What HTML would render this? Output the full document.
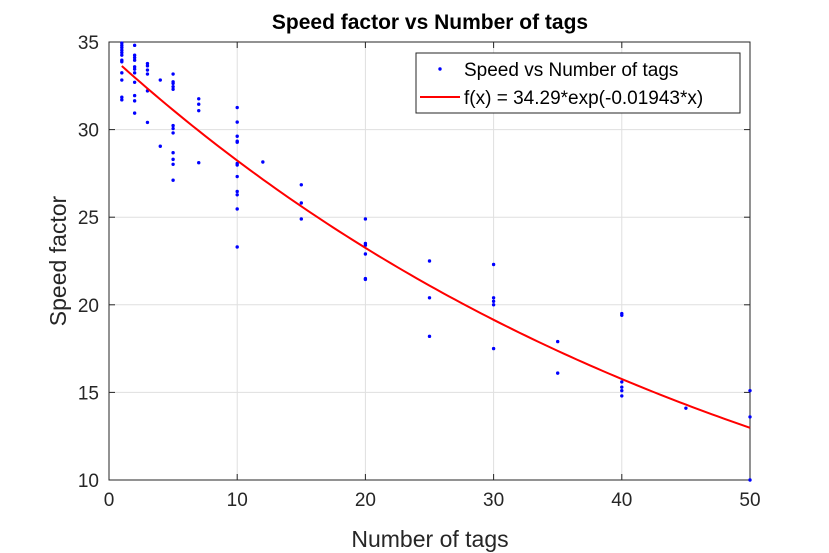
<!DOCTYPE html>
<html><head><meta charset="utf-8"><style>
body{margin:0;background:#fff;}
svg{display:block;font-family:"Liberation Sans",Arial,sans-serif;}
</style></head><body>
<svg id="chart" width="829" height="553" viewBox="0 0 829 553" xmlns="http://www.w3.org/2000/svg"></svg>
<script>
const xTicks=[0,10,20,30,40,50];
const yTicks=[10,15,20,25,30,35];
const ptX=[1,1,1,1,1,1,1,1,1,1,1,1,
2,2,2,2,2,2,2,2,2,2,2,
3,3,3,3,3,3,4,4,
5,5,5,5,5,5,5,5,5,5,5,5,
7,7,7,7,
10,10,10,10,10,10,10,10,10,10,10,10,
12,15,15,15,
20,20,20,20,20,20,25,25,25,
30,30,30,30,30,35,35,
40,40,40,40,40,40,45,50,50,50];
const ptY=[34.94,34.81,34.68,34.53,34.39,34.25,33.96,33.87,33.24,32.83,31.85,31.7,
34.81,34.25,34.11,33.96,33.58,33.45,33.24,32.7,31.94,31.64,30.94,
33.77,33.64,33.4,33.17,32.21,30.41,32.83,29.05,
33.17,32.73,32.64,32.45,32.3,30.23,30.06,29.81,28.68,28.3,28.02,27.11,
31.76,31.45,31.08,28.11,
31.26,30.43,29.62,29.34,29.28,28.07,27.98,27.32,26.47,26.28,25.47,23.3,
28.15,26.85,25.81,24.9,
24.9,23.5,23.4,22.9,21.5,21.45,22.5,20.4,18.2,
22.3,20.4,20.2,20.0,17.5,17.9,16.1,
19.5,19.4,15.6,15.3,15.1,14.8,14.1,15.1,13.6,10.0];
const fitA=34.29, fitB=-0.01943;

const L=109,R=750,T=42,B=480;
const sx=v=>L+(v-0)/50*(R-L);
const sy=v=>B-(v-10)/25*(B-T);
const svg=document.getElementById('chart');
const NS='http://www.w3.org/2000/svg';
function mk(tag,attrs,parent){const e=document.createElementNS(NS,tag);for(const k in attrs)e.setAttribute(k,attrs[k]);(parent||svg).appendChild(e);return e;}

const grid=mk('g',{});


xTicks.forEach(t=>{mk('line',{x1:sx(t),x2:sx(t),y1:T,y2:B,stroke:'#dfdfdf','stroke-width':1},grid);});
yTicks.forEach(t=>{mk('line',{x1:L,x2:R,y1:sy(t),y2:sy(t),stroke:'#dfdfdf','stroke-width':1},grid);});

const box=mk('rect',{x:L,y:T,width:R-L,height:B-T,fill:'none',stroke:'#262626','stroke-width':1});



const xa=mk('g',{});


xTicks.forEach(t=>{
 mk('line',{x1:sx(t),x2:sx(t),y1:B,y2:B-6,stroke:'#262626'},xa);
 mk('line',{x1:sx(t),x2:sx(t),y1:T,y2:T+6,stroke:'#262626'},xa);
 const tx=mk('text',{x:sx(t),y:B+26,'text-anchor':'middle','font-size':19,fill:'#262626'},xa);tx.textContent=t;
 
 
});
const ya=mk('g',{});


yTicks.forEach(t=>{
 mk('line',{x1:L,x2:L+6,y1:sy(t),y2:sy(t),stroke:'#262626'},ya);
 mk('line',{x1:R,x2:R-6,y1:sy(t),y2:sy(t),stroke:'#262626'},ya);
 const tx=mk('text',{x:L-10,y:sy(t)+7,'text-anchor':'end','font-size':19,fill:'#262626'},ya);tx.textContent=t;
 
 
});

const pts=mk('g',{fill:'#0000ff'});


ptX.forEach((x,i)=>{const c=mk('circle',{cx:sx(x),cy:sy(ptY[i]),r:1.7},pts);
 
 });

let d='';
for(let x=1;x<=50.001;x+=0.5){const y=fitA*Math.exp(fitB*x);d+=(d?'L':'M')+sx(x).toFixed(2)+','+sy(y).toFixed(2);}
const fit=mk('path',{d:d,fill:'none',stroke:'#ff0000','stroke-width':2});



const title=mk('text',{x:430,y:29,'text-anchor':'middle','font-size':21,'font-weight':'bold',fill:'#000'});
title.textContent='Speed factor vs Number of tags';


const xt=mk('text',{x:430,y:547,'text-anchor':'middle','font-size':23,fill:'#262626'});
xt.textContent='Number of tags';


const yt=mk('text',{x:0,y:0,'text-anchor':'middle','font-size':23,fill:'#262626',transform:'translate(66,261) rotate(-90)'});
yt.textContent='Speed factor';



const lg=mk('g',{});


mk('rect',{x:416,y:53,width:324,height:60,fill:'#fff',stroke:'#262626','stroke-width':1},lg);
mk('circle',{cx:440,cy:69,r:1.7,fill:'#0000ff'},lg);
const l1=mk('text',{x:464,y:76,'font-size':19,fill:'#000'},lg);l1.textContent='Speed vs Number of tags';


mk('line',{x1:420,x2:460,y1:97,y2:97,stroke:'#ff0000','stroke-width':2},lg);
const l2=mk('text',{x:464,y:104,'font-size':19,fill:'#000'},lg);l2.textContent='f(x) = 34.29*exp(-0.01943*x)';


</script>
</body></html>
